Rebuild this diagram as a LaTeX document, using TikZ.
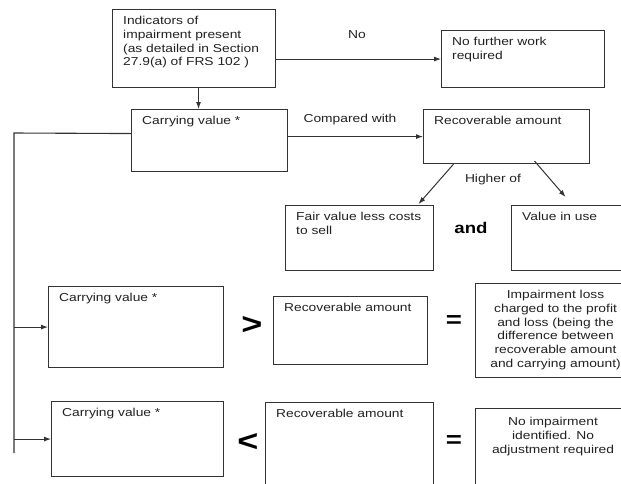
\documentclass[tikz,border=0pt]{standalone}
\usepackage{fontspec}
\setmainfont{Liberation Sans}[FakeStretch=1.2]
\usetikzlibrary{arrows.meta}
\definecolor{lc}{HTML}{333333}
\definecolor{tc}{HTML}{222222}
\begin{document}
\begin{tikzpicture}[x=1pt,y=-1pt,
  box/.style={draw=lc, line width=1.1pt, rectangle, inner sep=0pt, anchor=north west},
  txt/.style={font=\fontsize{11.5}{13.8}\selectfont, text=tc, inner sep=0pt, align=left},
  tl/.style={txt, anchor=north west, xshift=11pt, yshift=-7pt},
  tc/.style={txt, align=center, anchor=north, yshift=-7pt},
  sym/.style={font=\bfseries\fontsize{30}{30}\selectfont, text=black, inner sep=0pt},
  eqst/.style={font=\bfseries\fontsize{23}{23}\selectfont, text=black, inner sep=0pt},
  andst/.style={font=\bfseries\fontsize{15.5}{16}\selectfont, text=black, inner sep=0pt},
  arr/.style={draw=lc, line width=1pt, -{Latex[length=7pt,width=5pt]}},
  ln/.style={draw=lc, line width=1.1pt}]
\useasboundingbox (0,0) rectangle (621,483);
\fill[white] (0,0) rectangle (621,483);
\clip (0,0) rectangle (621,483);

% boxes
\node[box, minimum width=163pt, minimum height=78pt,
  label={[tl]north west:Indicators of\\impairment present\\(as detailed in Section\\27.9(a) of FRS 102 )}] (b1) at (112,9) {};
\node[box, minimum width=163pt, minimum height=57pt,
  label={[tl]north west:No further work\\required}] (nf) at (441,30) {};
\node[box, minimum width=156pt, minimum height=62pt,
  label={[tl]north west:Carrying value *}] (cv1) at (131,109) {};
\node[box, minimum width=166pt, minimum height=54pt,
  label={[tl]north west:Recoverable amount}] (rec1) at (423,109) {};
\node[box, minimum width=148pt, minimum height=65pt,
  label={[tl]north west:Fair value less costs\\to sell}] (fv) at (285,205) {};
\node[box, minimum width=120pt, minimum height=65pt,
  label={[tl]north west:Value in use}] (viu) at (511,205) {};
\node[box, minimum width=175pt, minimum height=81pt,
  label={[tl]north west:Carrying value *}] (cv2) at (48,286) {};
\node[box, minimum width=154pt, minimum height=68pt,
  label={[tl]north west:Recoverable amount}] (rec2) at (273,296) {};
\node[box, minimum width=160pt, minimum height=94pt,
  label={[tc]north:Impairment loss\\charged to the profit\\and loss (being the\\difference between\\recoverable amount\\and carrying amount)}] (imp) at (475,283) {};
\node[box, minimum width=172pt, minimum height=75pt,
  label={[tl]north west:Carrying value *}] (cv3) at (51,401) {};
\node[box, minimum width=168pt, minimum height=90pt,
  label={[tl]north west:Recoverable amount}] (rec3) at (265,402) {};
\node[box, minimum width=155pt, minimum height=90pt,
  label={[tc, yshift=-2pt]north:No impairment\\identified. No\\adjustment required}] (noimp) at (475,408) {};

% free labels
\node[txt] (lno) at (357,35) {No};
\node[txt] (lcmp) at (350,120) {Compared with};
\node[txt] (lhi) at (493,180) {Higher of};
\node[andst] (land) at (471,228) {and};
\node[sym] (gt) at (252,325) {>};
\node[sym] (lt) at (248,442) {<};
\node[eqst] (eq1) at (454,322) {=};
\node[eqst] (eq2) at (454,442) {=};

% connectors
\draw[arr] (b1.east |- nf.west) -- (nf.west);
\draw[arr] ([xshift=4.5pt]b1.south) -- ([xshift=4.5pt]b1.south |- cv1.north);
\draw[arr] (cv1.east |- rec1.west) -- (rec1.west);
\coordinate (tl) at (14,133);
\coordinate (bl) at (14,453);
\draw[ln] ([yshift=7pt]cv1.west) -- (tl) -- (bl);
\draw[arr] (tl |- cv2.west) -- (cv2.west);
\draw[arr] (tl |- cv3.west) -- (cv3.west);
\draw[arr] ([xshift=-53pt]rec1.south) -- ([xshift=59pt,yshift=1pt]fv.north);
\draw[arr] ([xshift=28pt,yshift=3pt]rec1.south) -- ([xshift=-6pt,yshift=8pt]viu.north);
\end{tikzpicture}
\end{document}
